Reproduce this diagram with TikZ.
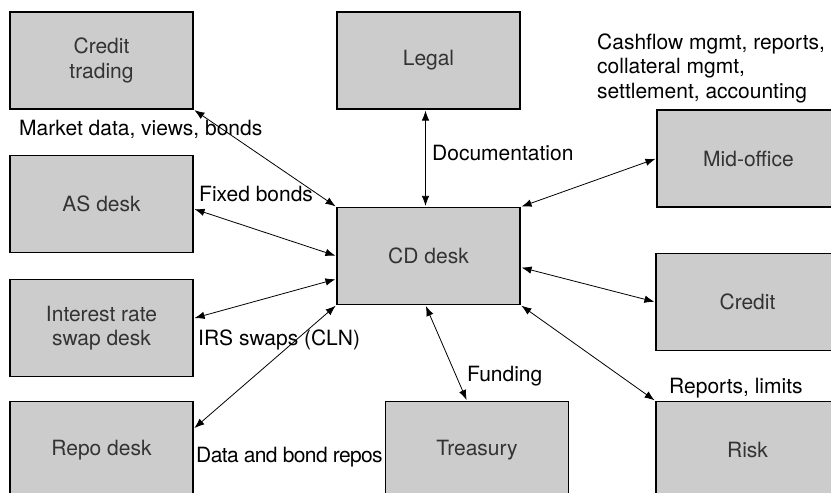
\documentclass[tikz,border=0pt]{standalone}
\usepackage{fontspec}
\setmainfont{TeX Gyre Heros}
\usepackage{tikz}
\usetikzlibrary{arrows.meta,positioning}

\definecolor{boxgray}{HTML}{CCCCCC}
\definecolor{txtgray}{HTML}{333333}

\tikzset{
  deskbox/.style={draw=black,line width=1.2pt,fill=boxgray,text=txtgray,
    minimum width=183pt,minimum height=97pt,align=center,inner sep=0pt},
  flowlabel/.style={anchor=west,inner sep=0pt,align=left},
  link/.style={<->,line width=0.8pt,shorten <=1pt,shorten >=1pt}
}

\begin{document}
\begin{tikzpicture}[x=1pt,y=-1pt,>={Latex[length=10pt,width=7.5pt]},
  font=\fontsize{21}{24.5}\selectfont]
  \useasboundingbox (0,0) rectangle (831,493);
  \clip (0,0) rectangle (831,493);
  % desks
  \node[deskbox] (ct) at (101.5,60.5) {Credit\\trading};
  \node[deskbox] (legal) at (428.5,60.5) {Legal};
  \node[deskbox] (asdesk) at (101.5,204) {AS desk};
  \node[deskbox] (cd) at (428.5,256) {CD desk};
  \node[deskbox] (mid) at (748.5,158.5) {Mid-office};
  \node[deskbox] (irs) at (101.5,328) {Interest rate\\swap desk};
  \node[deskbox] (credit) at (747.5,302) {Credit};
  \node[deskbox] (repo) at (101.5,450) {Repo desk};
  \node[deskbox] (treas) at (477,450) {Treasury};
  \node[deskbox] (risk) at (747.5,450) {Risk};
  % links to the CD desk
  \draw[link] (ct.south east) -- (cd.north west);
  \draw[link] (asdesk.-3) -- (cd.west);
  \draw[link] (irs.6) -- (cd.194);
  \draw[link] (repo.13) -- (cd.south west);
  \draw[link] ([xshift=-3pt]legal.south) -- ([xshift=-3pt]cd.north);
  \draw[link] (mid.west) -- (cd.north east);
  \draw[link] (credit.west) -- (cd.-7);
  \draw[link] ([xshift=-3pt]cd.south) -- ([xshift=-10pt]treas.north);
  \draw[link] (risk.north west) -- (cd.south east);
  % labels
  \node[flowlabel] (lmkt) at (19,129) {Market data, views, bonds};
  \node[flowlabel] (lfix) at (199,194) {Fixed bonds};
  \node[flowlabel] (ldoc) at (432,153) {Documentation};
  \node[flowlabel] (lcash) at (597,68) {Cashflow mgmt, reports,\\collateral mgmt,\\settlement, accounting};
  \node[flowlabel] (lirs) at (198,340) {IRS swaps (CLN)};
  \node[flowlabel] (lrepo) at (196,457) {\addfontfeatures{LetterSpace=-3}Data and bond repos};
  \node[flowlabel] (lfund) at (467,376) {Funding};
  \node[flowlabel] (lrisk) at (669,388) {Reports, limits};
\end{tikzpicture}
\end{document}
